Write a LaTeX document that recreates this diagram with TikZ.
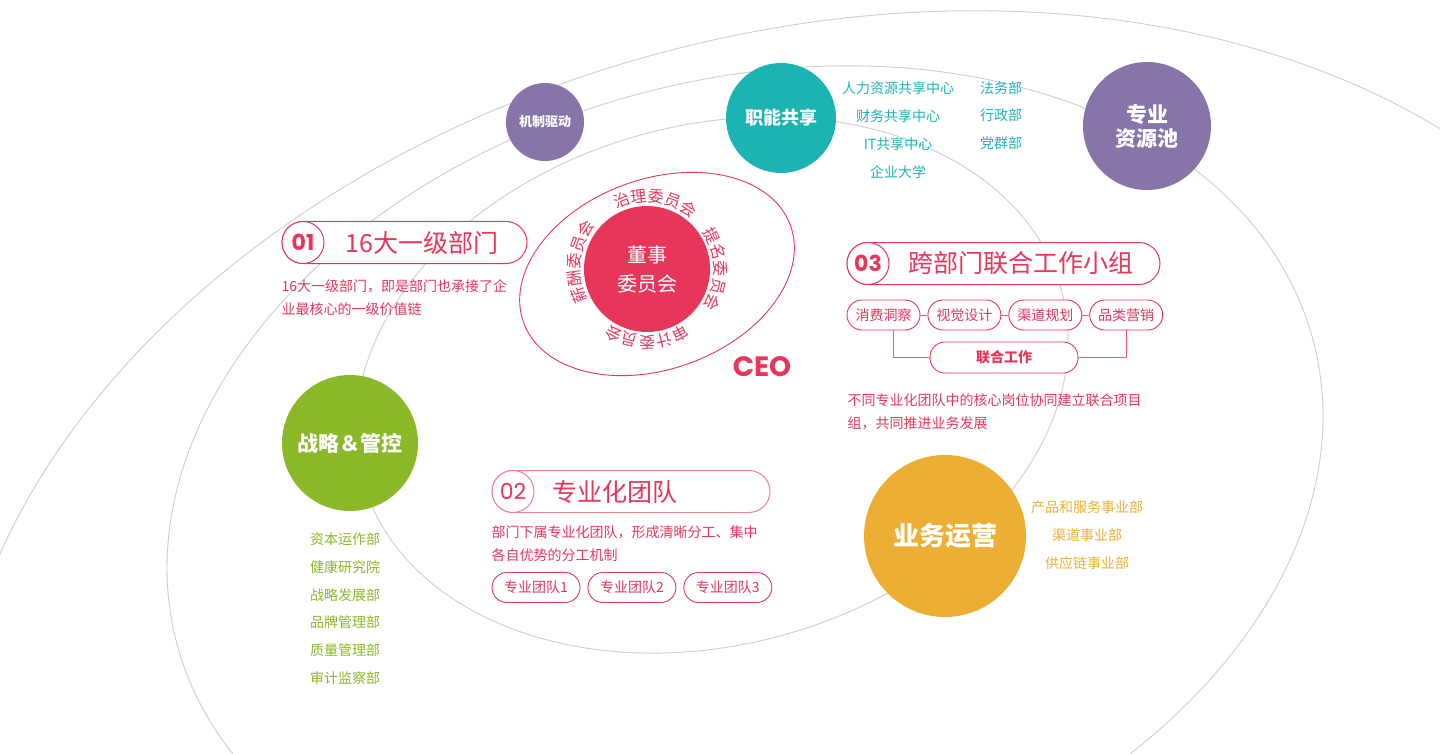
\documentclass[tikz,border=0pt]{standalone}
\usepackage{fontspec}
\setmainfont{Noto Sans CJK SC}
\newfontfamily\numfont{Poppins}
\usepackage{xcolor}
\definecolor{CoreRed}{HTML}{E8365A}
\definecolor{SoftRed}{HTML}{EF7F95}
\definecolor{ShareTeal}{HTML}{1CB4B2}
\definecolor{PoolPurple}{HTML}{8775AA}
\definecolor{CtrlGreen}{HTML}{8BB829}
\definecolor{OpsAmber}{HTML}{EDAF33}
\definecolor{OrbitGray}{HTML}{CDCDCD}
\usepackage{tikz}
\usetikzlibrary{positioning, calc, decorations.text}
\newcommand{\fsz}[2]{\fontsize{#1}{#2}\selectfont}
\tikzset{
  % Orbit styles
  orbit/.style={draw=OrbitGray, line width=0.9pt},
  ceoring/.style={draw=CoreRed, line width=0.9pt},
  % Circle styles
  hubdot/.style={circle, inner sep=0pt, text=white, font=\bfseries, align=center},
  numdot/.style={circle, draw=CoreRed, fill=white, line width=1pt, inner sep=0pt, minimum size=42pt, text=CoreRed, font=\numfont\bfseries\fsz{22}{22}},
  % Box styles
  titlepill/.style={rectangle, rounded corners=21pt, draw=CoreRed, fill=white, line width=1pt, minimum height=42pt},
  tagbox/.style={rectangle, rounded corners=15pt, draw=CoreRed, fill=white, line width=0.9pt, minimum height=30pt, inner sep=0pt, text=CoreRed, font=\fsz{14}{14}},
  % Text styles
  titletext/.style={inner sep=0pt, text=CoreRed, font=\fsz{25}{25}},
  desctext/.style={inner sep=0pt, text=CoreRed, font=\fsz{14}{23}, align=left},
  tealtext/.style={inner sep=0pt, text=ShareTeal, font=\fsz{14}{14}},
  greentext/.style={inner sep=0pt, text=CtrlGreen, font=\fsz{14}{14}},
  ambertext/.style={inner sep=0pt, text=OpsAmber, font=\fsz{14}{14}},
  % Line styles
  link/.style={draw=CoreRed!80, line width=1pt}
}

\begin{document}
\begin{tikzpicture}[x=1pt, y=1pt]
  \useasboundingbox (0,0) rectangle (1440,-754);

  % Orbits
  \begin{scope}
    \clip (0,0) rectangle (1440,-754);
    \draw[orbit, rotate around={15:(820,-650)}] (820,-650) ellipse [x radius=882, y radius=618];
    \draw[orbit, rotate around={15:(745,-492)}] (745,-492) ellipse [x radius=588, y radius=412];
    \draw[orbit, rotate around={15:(712,-385)}] (712,-385) ellipse [x radius=362, y radius=260];
  \end{scope}

  % CEO ring and board
  \draw[ceoring, rotate around={20:(657,-274)}] (657,-274) ellipse [x radius=142, y radius=95];
  \node[hubdot, fill=CoreRed, minimum size=126pt, font=\fsz{20}{29}] (board) at (647,-269) {董事\\委员会};
  \node[inner sep=0pt, text=CoreRed, font=\numfont\bfseries\fsz{28}{28}] (ceo) at (762,-367) {CEO};

  % Committees round the board
  \path[decorate, decoration={text along path, text align=center, text color=CoreRed, text={|\fsz{16}{16}|治理委员会}}]
    (board.center) ++(128:67) arc[start angle=128, end angle=38, radius=67];
  \path[decorate, decoration={text along path, text align=center, text color=CoreRed, text={|\fsz{16}{16}|提名委员会}}]
    (board.center) ++(45:67) arc[start angle=45, end angle=-45, radius=67];
  \path[decorate, decoration={text along path, text align=center, text color=CoreRed, text={|\fsz{16}{16}|审计委员会}}]
    (board.center) ++(-45:67) arc[start angle=-45, end angle=-135, radius=67];
  \path[decorate, decoration={text along path, text align=center, text color=CoreRed, text={|\fsz{16}{16}|薪酬委员会}}]
    (board.center) ++(219:67) arc[start angle=219, end angle=129, radius=67];

  % Hubs
  \node[hubdot, fill=PoolPurple, minimum size=78pt, font=\bfseries\fsz{13}{13}] (drive) at (545,-122) {机制驱动};
  \node[hubdot, fill=ShareTeal, minimum size=110pt, font=\bfseries\fsz{18}{18}] (share) at (781,-118) {职能共享};
  \node[hubdot, fill=PoolPurple, minimum size=128pt, font=\bfseries\fsz{21}{24}] (pool) at (1147,-126) {专业\\资源池};
  \node[hubdot, fill=CtrlGreen, minimum size=136pt, font=\bfseries\fsz{21}{21}] (ctrl) at (350,-443) {战略＆管控};
  \node[hubdot, fill=OpsAmber, minimum size=162pt, font=\bfseries\fsz{26}{26}] (ops) at (945,-536) {业务运营};

  % Lists
  \foreach \txt [count=\i] in {人力资源共享中心, 财务共享中心, IT共享中心, 企业大学}
    \node[tealtext] (sl\i) at (898, {-88-28.2*(\i-1)}) {\txt};
  \foreach \txt [count=\i] in {法务部, 行政部, 党群部}
    \node[tealtext] (sr\i) at (1001, {-88-27.5*(\i-1)}) {\txt};
  \foreach \txt [count=\i] in {资本运作部, 健康研究院, 战略发展部, 品牌管理部, 质量管理部, 审计监察部}
    \node[greentext] (cl\i) at (345, {-539.5-27.7*(\i-1)}) {\txt};
  \foreach \txt [count=\i] in {产品和服务事业部, 渠道事业部, 供应链事业部}
    \node[ambertext] (ol\i) at (1087, {-507-28*(\i-1)}) {\txt};

  % 01
  \node[titlepill, minimum width=245pt] (p1) at (404.5,-242.5) {};
  \node[numdot, anchor=west] (n1) at (p1.west) {01};
  \node[titletext, right=21pt of n1] (t1) {16大一级部门};
  \node[desctext, below=15pt of p1.south west, anchor=north west] (d1) {16大一级部门，即是部门也承接了企\\业最核心的一级价值链};

  % 02
  \node[titlepill, draw=SoftRed, minimum width=278pt] (p2) at (631,-491.5) {};
  \node[numdot, draw=SoftRed, font=\numfont\fsz{22}{22}, anchor=west] (n2) at (p2.west) {02};
  \node[titletext, right=18pt of n2] (t2) {专业化团队};
  \node[desctext, below=12pt of p2.south west, anchor=north west] (d2) {部门下属专业化团队，形成清晰分工、集中\\各自优势的分工机制};
  \node[tagbox, minimum width=88pt] (m1) at (536,-587.5) {专业团队1};
  \node[tagbox, minimum width=88pt, right=7pt of m1] (m2) {专业团队2};
  \node[tagbox, minimum width=88pt, right=7pt of m2] (m3) {专业团队3};

  % 03
  \node[titlepill, minimum width=313pt] (p3) at (1003.5,-263.5) {};
  \node[numdot, anchor=west] (n3) at (p3.west) {03};
  \node[titletext, right=19pt of n3] (t3) {跨部门联合工作小组};
  \node[tagbox, minimum width=73pt] (g1) at (883.5,-315) {消费洞察};
  \node[tagbox, minimum width=73pt, right=7pt of g1] (g2) {视觉设计};
  \node[tagbox, minimum width=73pt, right=7pt of g2] (g3) {渠道规划};
  \node[tagbox, minimum width=73pt, right=7pt of g3] (g4) {品类营销};
  \node[tagbox, minimum width=148pt, minimum height=31pt, font=\bfseries\fsz{14}{14}] (joint) at (1004,-357.5) {联合工作};
  \draw[link] (g1) -- (g2);
  \draw[link] (g2) -- (g3);
  \draw[link] (g3) -- (g4);
  \draw[link] ([xshift=10pt]g1.south) |- (joint.west);
  \draw[link] (g4.south) |- (joint.east);
  \node[desctext, anchor=north west] (d3) at ($(joint.south -| p3.west)+(1,-20)$) {不同专业化团队中的核心岗位协同建立联合项目\\组，共同推进业务发展};
\end{tikzpicture}
\end{document}
